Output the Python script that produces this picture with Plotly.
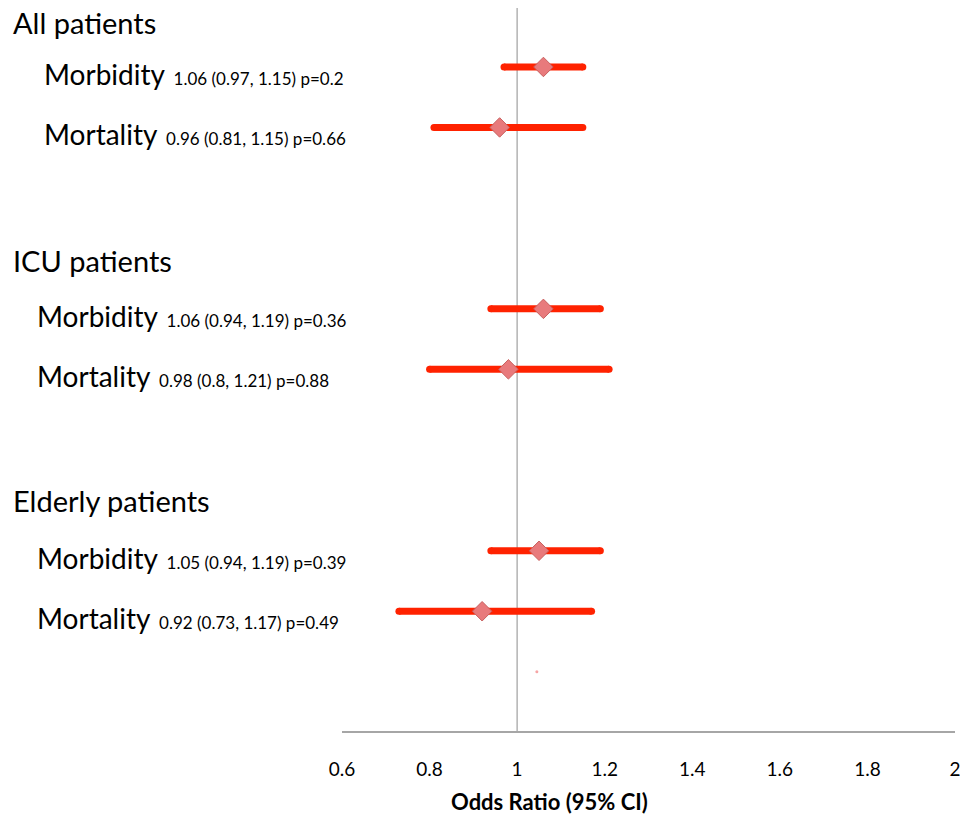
import plotly.graph_objects as go

groups = ["All patients", "ICU patients", "Elderly patients"]
outcomes = ["Morbidity", "Mortality"]
odds_ratio = [1.06, 0.96, 1.06, 0.98, 1.05, 0.92]
ci_low = [0.97, 0.81, 0.94, 0.8, 0.94, 0.73]
ci_high = [1.15, 1.15, 1.19, 1.21, 1.19, 1.17]
p_values = [0.2, 0.66, 0.36, 0.88, 0.39, 0.49]
x_ticks = [0.6, 0.8, 1, 1.2, 1.4, 1.6, 1.8, 2]
x_tick_labels = ["0.6", "0.8", "1", "1.2", "1.4", "1.6", "1.8", "2"]
stray_mark_x = [1.045]

FONT = "Lato"
W, H = 960, 814
L, R, T, B = 342, 5, 8, 83
pw, ph = W - L - R, H - T - B


def px_x(px):
    return (px - L) / pw


def px_y(py):
    return (H - B - py) / ph


rows = []
for g in range(len(groups)):
    for k in range(len(outcomes)):
        rows.append(g * 4 + k)

ci_x, ci_y = [], []
for lo, hi, r in zip(ci_low, ci_high, rows):
    ci_x += [lo, hi, None]
    ci_y += [r, r, None]

fig = go.Figure()
fig.add_trace(go.Scatter(
    x=ci_x, y=ci_y, mode="lines+markers",
    line=dict(color="#ff2200", width=7),
    marker=dict(symbol="circle", size=7, color="#ff2200"),
    hoverinfo="skip", showlegend=False))
fig.add_trace(go.Scatter(
    x=odds_ratio, y=rows, mode="markers",
    marker=dict(symbol="diamond", size=15, color="#e87a7c",
                line=dict(color="#c8605f", width=1)),
    showlegend=False))
fig.add_trace(go.Scatter(
    x=stray_mark_x, y=[10], mode="markers",
    marker=dict(symbol="circle", size=3, color="#f6a5a5"),
    hoverinfo="skip", showlegend=False))

fig.add_shape(type="line", x0=1, x1=1, xref="x", y0=0, y1=1, yref="paper",
              line=dict(color="#b3b3b3", width=1.5), layer="below")

anns = []
header_py = [22, 260, 500]
label_px = [42, 35, 35]
for g, name in enumerate(groups):
    anns.append(dict(x=px_x(11), y=px_y(header_py[g]), xref="paper", yref="paper",
                     xanchor="left", yanchor="middle", showarrow=False,
                     text=name, font=dict(family=FONT, size=29, color="black")))
    for k, oc in enumerate(outcomes):
        i = g * 2 + k
        stats = f"{odds_ratio[i]:.2f} ({ci_low[i]}, {ci_high[i]}) p={p_values[i]}"
        anns.append(dict(x=px_x(label_px[g]), y=rows[i], xref="paper", yref="y",
                         xanchor="left", yanchor="middle", yshift=-7, showarrow=False,
                         text=f"{oc}<span style='font-size:17px'>&nbsp;&nbsp;{stats}</span>",
                         font=dict(family=FONT, size=28, color="black")))
anns.append(dict(x=px_x(549), y=px_y(801), xref="paper", yref="paper",
                 xanchor="center", yanchor="middle", showarrow=False,
                 text="<b>Odds Ratio (95% CI)</b>",
                 font=dict(family=FONT, size=22, color="black")))

fig.update_layout(
    width=W, height=H,
    margin=dict(l=L, r=R, t=T, b=B),
    paper_bgcolor="white", plot_bgcolor="white",
    annotations=anns,
    xaxis=dict(range=[0.6, 2.0], tickvals=x_ticks, ticktext=x_tick_labels,
               automargin=False, ticklabeloverflow="allow",
               showline=True, linecolor="#a6a6a6", linewidth=1.5,
               showgrid=False, zeroline=False,
               ticks="outside", ticklen=20, tickcolor="rgba(0,0,0,0)",
               tickfont=dict(family=FONT, size=19, color="black")),
    yaxis=dict(range=[10.98, -0.975], visible=False, showgrid=False, zeroline=False,
               automargin=False),
)

fig.write_html("out.html")
